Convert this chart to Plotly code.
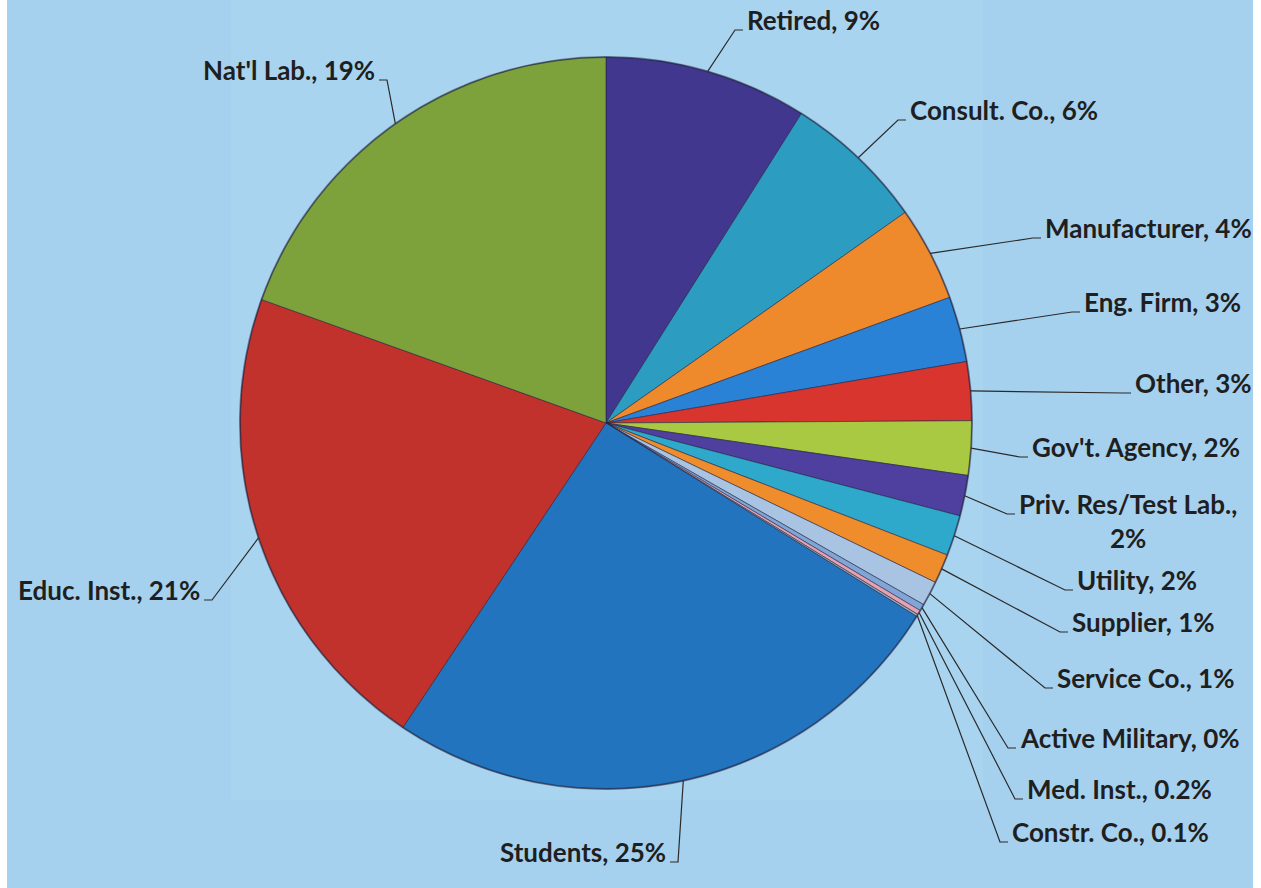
import math
import plotly.graph_objects as go

# ---------------- data ----------------
categories = ["Retired", "Consult. Co.", "Manufacturer", "Eng. Firm", "Other",
              "Gov't. Agency", "Priv. Res/Test Lab.", "Utility", "Supplier",
              "Service Co.", "Active Military", "Med. Inst.", "Constr. Co.",
              "Students", "Educ. Inst.", "Nat'l Lab."]
values = [9.0, 6.3, 4.2, 2.9, 2.6, 2.4, 1.8, 1.8, 1.3, 1.1, 0.3, 0.2, 0.1,
          25.6, 21.2, 19.6]
pct_labels = ["9%", "6%", "4%", "3%", "3%", "2%", "2%", "2%", "1%", "1%",
              "0%", "0.2%", "0.1%", "25%", "21%", "19%"]

# ---------------- styles / layout ----------------
colors = ["#41378F", "#2C9DC0", "#EF8A2C", "#2A82D6", "#D8352F", "#A8C941",
          "#4F3F9E", "#2EA8CB", "#EF8C2B", "#A9C4E2", "#7FA6D6", "#E6A1B2",
          "#9AA5B5", "#2274BE", "#C0322B", "#7DA23C"]

W, H = 1261, 888
CX, CY, R = 606, 423, 366  # pie centre / radius in px

# label placement: (text edge x px, text centre y px, side) side=+1 text right of line
label_layout = [
    (745, 20, 1), (908, 110, 1), (1043, 228, 1), (1082, 302, 1), (1133, 383, 1),
    (1030, 447, 1), (1017, 521, 1), (1075, 580, 1), (1070, 622, 1),
    (1055, 678, 1), (1018, 738, 1), (1025, 789, 1), (1010, 832, 1),
    (668, 852, -1), (202, 590, -1), (377, 70, -1),
]

def px(x):
    return x / W

def py(y):
    return 1 - y / H

fig = go.Figure()
fig.add_trace(go.Pie(
    labels=categories, values=values, sort=False, direction="clockwise",
    rotation=0, textinfo="none", hoverinfo="label+percent",
    marker=dict(colors=colors, line=dict(color="rgba(35,35,60,0.55)", width=1)),
    domain=dict(x=[px(CX - R), px(CX + R)], y=[py(CY + R), py(CY - R)]),
    showlegend=False,
))

shapes = [
    dict(type="rect", xref="paper", yref="paper", x0=px(7), x1=px(1253), y0=0, y1=1,
         fillcolor="#A6D1EE", line=dict(width=0), layer="below"),
    dict(type="rect", xref="paper", yref="paper", x0=px(231), x1=px(983), y0=py(800), y1=1,
         fillcolor="#A9D4EF", line=dict(width=0), layer="below"),
    dict(type="circle", xref="paper", yref="paper",
         x0=px(CX - R), x1=px(CX + R), y0=py(CY + R), y1=py(CY - R),
         line=dict(color="rgba(30,30,60,0.45)", width=2)),
]
annotations = []
total = sum(values)
cum = 0.0
for cat, v, pct, (tx, tcy, side) in zip(categories, values, pct_labels, label_layout):
    mid = (cum + v / 2) / total
    cum += v
    th = 2 * math.pi * mid
    ax = CX + R * math.sin(th)
    ay = CY - R * math.cos(th)
    if cat.startswith("Priv"):
        ly = tcy - 17 + 10
        text = f"<b>{cat},</b><br><b>{pct}</b>"
    else:
        ly = tcy + 10
        text = f"<b>{cat}, {pct}</b>"
    ex = tx - side * 10
    path = f"M {px(ax)},{py(ay)} L {px(ex)},{py(ly)} L {px(tx - side * 2)},{py(ly)}"
    shapes.append(dict(type="path", xref="paper", yref="paper", path=path,
                       line=dict(color="#2a2a2a", width=1.2)))
    annotations.append(dict(
        x=px(tx), y=py(tcy), xref="paper", yref="paper", text=text,
        showarrow=False, xanchor="left" if side > 0 else "right", yanchor="middle",
        align="center", font=dict(family="Lato", size=26, color="#1f1f1f"),
    ))

fig.update_layout(
    width=W, height=H, margin=dict(l=0, r=0, t=0, b=0),
    paper_bgcolor="white", shapes=shapes, annotations=annotations,
)
fig.write_html("out.html", config={"displayModeBar": False},
               post_script="document.body.style.margin='0px';")
